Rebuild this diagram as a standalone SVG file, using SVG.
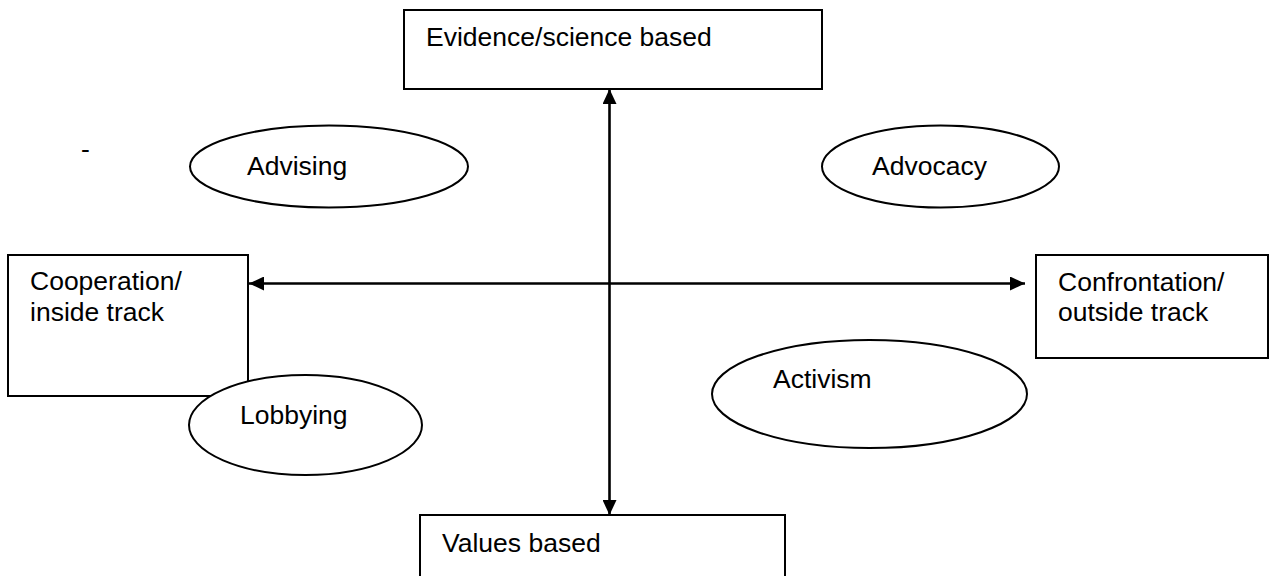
<svg xmlns="http://www.w3.org/2000/svg" width="1270" height="576" viewBox="0 0 1270 576">
  <style>
    .box { fill: #fff; stroke: #000; stroke-width: 2; }
    .oval { fill: #fff; stroke: #000; stroke-width: 2; }
    .axis { stroke: #000; stroke-width: 2.6; fill: none; }
    text { font-family: "Liberation Sans", Arial, sans-serif; font-size: 26.5px; fill: #000; }
  </style>
  <defs>
    <marker id="arrow" viewBox="0 0 15 14" refX="15" refY="7" markerWidth="15" markerHeight="14" markerUnits="userSpaceOnUse" orient="auto-start-reverse">
      <path d="M0,0 L15,7 L0,14 Z" fill="#000"/>
    </marker>
  </defs>

  <rect width="1270" height="576" fill="#fff"/>

  <!-- stray dash -->
  <text x="81" y="158">-</text>

  <g id="node-evidence">
    <rect class="box" x="404" y="10" width="418" height="79"/>
    <text x="426" y="46">Evidence/science based</text>
  </g>

  <g id="node-values">
    <rect class="box" x="420" y="515" width="365" height="80"/>
    <text x="442" y="552">Values based</text>
  </g>

  <g id="node-cooperation">
    <rect class="box" x="8" y="255" width="240" height="141"/>
    <text x="30" y="290">Cooperation/</text>
    <text x="30" y="320.5">inside track</text>
  </g>

  <g id="node-confrontation">
    <rect class="box" x="1036" y="255" width="232" height="103"/>
    <text x="1058" y="291">Confrontation/</text>
    <text x="1058" y="320.5">outside track</text>
  </g>

  <g id="connectors">
    <line class="axis" x1="609.5" y1="89" x2="609.5" y2="515" marker-start="url(#arrow)" marker-end="url(#arrow)"/>
    <line class="axis" x1="249" y1="283.5" x2="1025" y2="283.5" marker-start="url(#arrow)" marker-end="url(#arrow)"/>
  </g>

  <g id="node-advising">
    <ellipse class="oval" cx="329" cy="166.5" rx="139" ry="41"/>
    <text x="247" y="174.5">Advising</text>
  </g>

  <g id="node-advocacy">
    <ellipse class="oval" cx="940.5" cy="166.5" rx="118.5" ry="41"/>
    <text x="872" y="174.5">Advocacy</text>
  </g>

  <g id="node-activism">
    <ellipse class="oval" cx="869.5" cy="394" rx="157.5" ry="54"/>
    <text x="773" y="387.5">Activism</text>
  </g>

  <g id="node-lobbying">
    <ellipse class="oval" cx="305.5" cy="425" rx="116.5" ry="50"/>
    <text x="240" y="423.5">Lobbying</text>
  </g>
</svg>
